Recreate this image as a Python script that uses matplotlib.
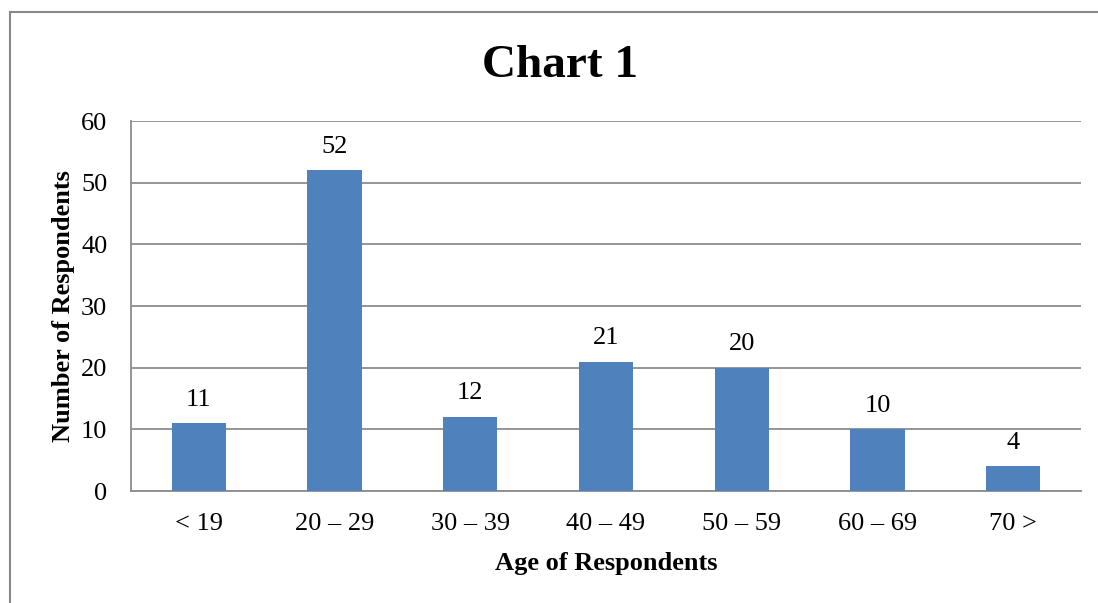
import matplotlib
matplotlib.use("Agg")
import matplotlib.pyplot as plt
from matplotlib.lines import Line2D

categories = ["< 19", "20 – 29", "30 – 39", "40 – 49", "50 – 59", "60 – 69", "70 >"]
respondents = [11, 52, 12, 21, 20, 10, 4]
y_ticks = [0, 10, 20, 30, 40, 50, 60]

plt.rcParams["font.family"] = ["Liberation Serif", "DejaVu Serif"]

fig = plt.figure(figsize=(10.98, 6.03), dpi=100)
ax = fig.add_axes([0.1193, 0.1857, 0.8652, 0.6136])

bar_color = "#4F81BD"
grid_color = "#8C8C8C"

x = list(range(len(categories)))
bars = ax.bar(x, respondents, width=0.4, color=bar_color, zorder=3)

ax.set_xlim(-0.5, len(categories) - 0.5)
ax.set_ylim(0, 60)
ax.set_yticks(y_ticks)
ax.set_xticks(x)
ax.set_xticklabels(categories)
ax.tick_params(axis="both", length=0, labelsize=19)
ax.tick_params(axis="x", pad=16)
ax.tick_params(axis="y", pad=17)

ax.grid(axis="y", color=grid_color, linewidth=1.3, zorder=0)
for side in ("top", "right"):
    ax.spines[side].set_visible(False)
for side in ("left", "bottom"):
    ax.spines[side].set_color(grid_color)
    ax.spines[side].set_linewidth(1.3)

for rect, val in zip(bars, respondents):
    ax.annotate(str(val), (rect.get_x() + rect.get_width() / 2, val),
                xytext=(0, 17), textcoords="offset points",
                ha="center", va="center", fontsize=19)

ax.set_xlabel("Age of Respondents", fontsize=19, fontweight="bold", labelpad=12)
ax.set_ylabel("Number of Respondents", fontsize=19, fontweight="bold", labelpad=4)

fig.text(0.51, 0.89, "Chart 1", ha="center", va="center",
         fontsize=34, fontweight="bold")

# outer chart frame
frame_kw = dict(color="#888888", linewidth=1.5, transform=fig.transFigure)
fx0, fy1 = 10 / 1098, 1 - 12 / 603
fig.add_artist(Line2D([fx0, 1], [fy1, fy1], **frame_kw))
fig.add_artist(Line2D([fx0, fx0], [0, fy1], **frame_kw))

fig.savefig("out.png", dpi=100)
